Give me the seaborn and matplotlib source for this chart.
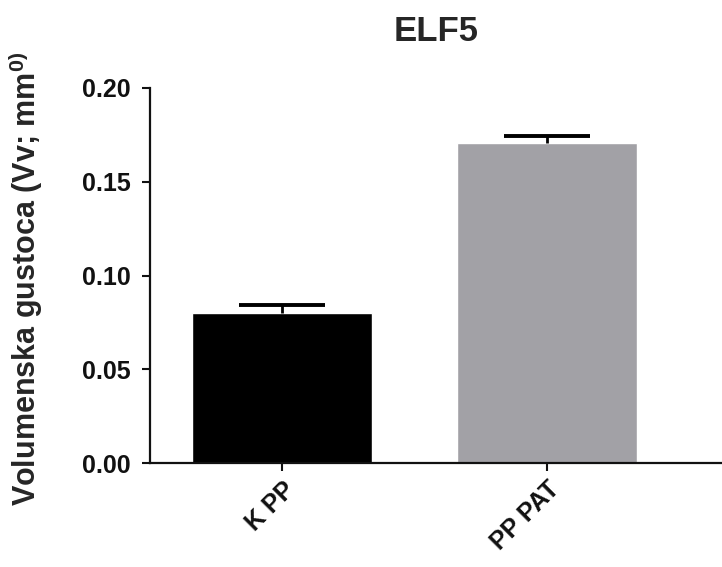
import numpy as np
import pandas as pd
import seaborn as sns
import matplotlib.pyplot as plt

groups = ['K PP', 'PP PAT']
means = [0.080, 0.1705]
sem = [0.0043, 0.0040]
bar_colors = ['#000000', '#a2a1a6']

df = pd.DataFrame({'group': groups, 'value': means})

sns.set_style('ticks')
plt.rcParams['font.family'] = ['Liberation Sans', 'DejaVu Sans']
plt.rcParams['font.weight'] = 'bold'
plt.rcParams['mathtext.default'] = 'regular'

fig = plt.figure(figsize=(7.22, 5.67), dpi=100)
ax = fig.add_axes([0.2078, 0.1834, 0.7922, 0.6614])

sns.barplot(data=df, x='group', y='value', hue='group', palette=bar_colors,
            width=0.68, errorbar=None, legend=False, ax=ax, saturation=1)

# upper-only error bars (GraphPad style)
_, caps, _ = ax.errorbar(np.arange(len(groups)), means, yerr=[[0, 0], sem], fmt='none',
                         ecolor='black', elinewidth=2, capsize=31, capthick=2.8, zorder=5)
caps[0].set_visible(False)

ax.set_xlim(-0.5, 1.66)
ax.set_ylim(0, 0.20)
ax.set_yticks([0.00, 0.05, 0.10, 0.15, 0.20])
ax.set_yticklabels(['0.00', '0.05', '0.10', '0.15', '0.20'])
ax.set_xticks(range(len(groups)))
ax.set_xticklabels(groups, rotation=45, ha='right', rotation_mode='anchor')

for lab in ax.get_xticklabels() + ax.get_yticklabels():
    lab.set_fontsize(18)
    lab.set_fontweight('bold')

ax.tick_params(axis='both', direction='out', length=6, width=1.5, colors='#111111')
ax.tick_params(axis='y', pad=8)
ax.tick_params(axis='x', pad=4)
for side in ['left', 'bottom']:
    ax.spines[side].set_linewidth(1.6)
    ax.spines[side].set_color('#111111')
sns.despine(ax=ax)

ax.set_xlabel('')
ax.set_ylabel('Volumenska gustoca (Vv; mm$^{0)}$', fontsize=22, fontweight='bold')
ax.yaxis.set_label_coords(-0.184, 0.49)
ax.set_title('ELF5', fontsize=25, fontweight='bold', pad=34)

fig.savefig('out.png', dpi=100)
